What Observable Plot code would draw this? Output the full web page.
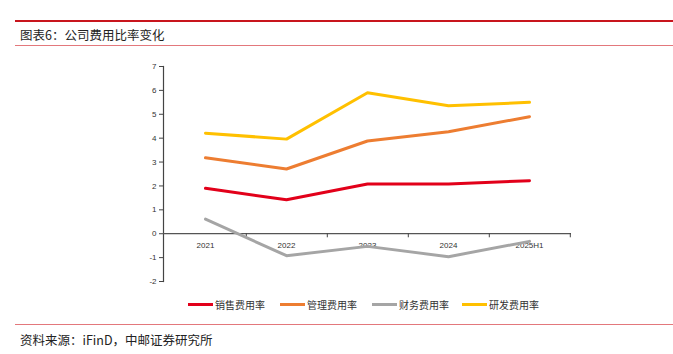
<!DOCTYPE html>
<html><head><meta charset="utf-8">
<script src="https://cdn.jsdelivr.net/npm/d3@7"></script>
<script src="https://cdn.jsdelivr.net/npm/@observablehq/plot@0.6"></script>
<style>
html,body{margin:0;padding:0;background:#fff;}
#wrap{position:relative;width:673px;height:354px;overflow:hidden;font-family:"Noto Sans CJK SC",sans-serif;}
.hr{position:absolute;left:15px;right:0;}
#title{position:absolute;left:20px;top:25px;font-size:12.5px;color:#222;line-height:20px;white-space:nowrap;}
#caption{position:absolute;left:20px;top:330px;font-size:12.5px;color:#222;line-height:20px;white-space:nowrap;}
#chart{position:absolute;left:0;top:50px;}
#legend{position:absolute;left:0;top:296px;width:673px;height:16px;font-size:10px;color:#333;}
.item{position:absolute;top:0;display:flex;align-items:center;height:16px;}
.sw{width:25px;height:3px;margin-right:2px;}
</style></head>
<body><div id="wrap">
<div class="hr" style="top:20px;height:2px;background:#c8151d"></div>
<div id="title">图表6：公司费用比率变化</div>
<div class="hr" style="top:45px;height:1px;background:#e3787c"></div>
<div id="chart"></div>
<div id="legend"></div>
<div class="hr" style="top:324px;height:1px;background:#e3787c"></div>
<div id="caption">资料来源：iFinD，中邮证券研究所</div>
</div>
<script>
const categories = ["2021","2022","2023","2024","2025H1"];
const seriesNames = ["销售费用率","管理费用率","财务费用率","研发费用率"];
const sales = [1.90, 1.42, 2.08, 2.08, 2.22];
const admin = [3.18, 2.71, 3.88, 4.27, 4.90];
const finance = [0.61, -0.92, -0.53, -0.96, -0.32];
const rnd = [4.21, 3.96, 5.90, 5.36, 5.50];
const yTicks = [-2,-1,0,1,2,3,4,5,6,7];
const colors = ["#e2001a","#ed7d31","#a5a5a5","#ffc000"];

const allSeries = [sales, admin, finance, rnd];
const data = [];
allSeries.forEach((vals, si) => vals.forEach((v, i) => data.push({series: seriesNames[si], cat: categories[i], value: v})));

const width = 673, marginLeft = 163, marginRight = 102;
const step = (width - marginLeft - marginRight) / categories.length;

const plot = Plot.plot({
  width, height: 270,
  marginLeft, marginRight, marginTop: 16, marginBottom: 39,
  style: {fontFamily: "'Liberation Sans', sans-serif", fontSize: "8px", color: "#333", background: "transparent"},
  x: {type: "point", domain: categories, padding: 0.5, axis: null},
  y: {domain: [-2, 7], ticks: yTicks, label: null},
  color: {domain: seriesNames, range: colors},
  marks: [
    Plot.axisY({ticks: yTicks, tickFormat: d => String(d), tickSize: 4, tickPadding: 3, stroke: "#444", fill: "#333", fontSize: 8, label: null}),
    Plot.frame({anchor: "left", stroke: "#444", strokeWidth: 1.2}),
    Plot.ruleY([0], {stroke: "#555", strokeWidth: 1.2}),
    Plot.ruleX(categories, {x: d => d, y1: 0, y2: -0.17, dx: step/2, stroke: "#444"}),
    Plot.text(categories, {x: d => d, y: 0, dy: 12, text: d => d, fill: "#333", fontSize: 8}),
    Plot.line(data, {x: "cat", y: "value", z: "series", stroke: "series", strokeWidth: 3, curve: "linear"})
  ]
});
document.getElementById("chart").appendChild(plot);

const legendX = [188, 280, 372, 462];
const leg = document.getElementById("legend");
seriesNames.forEach((n, i) => {
  const it = document.createElement("div");
  it.className = "item";
  it.style.left = legendX[i] + "px";
  it.innerHTML = `<div class="sw" style="background:${colors[i]}"></div><span>${n}</span>`;
  leg.appendChild(it);
});
</script>
</body></html>
